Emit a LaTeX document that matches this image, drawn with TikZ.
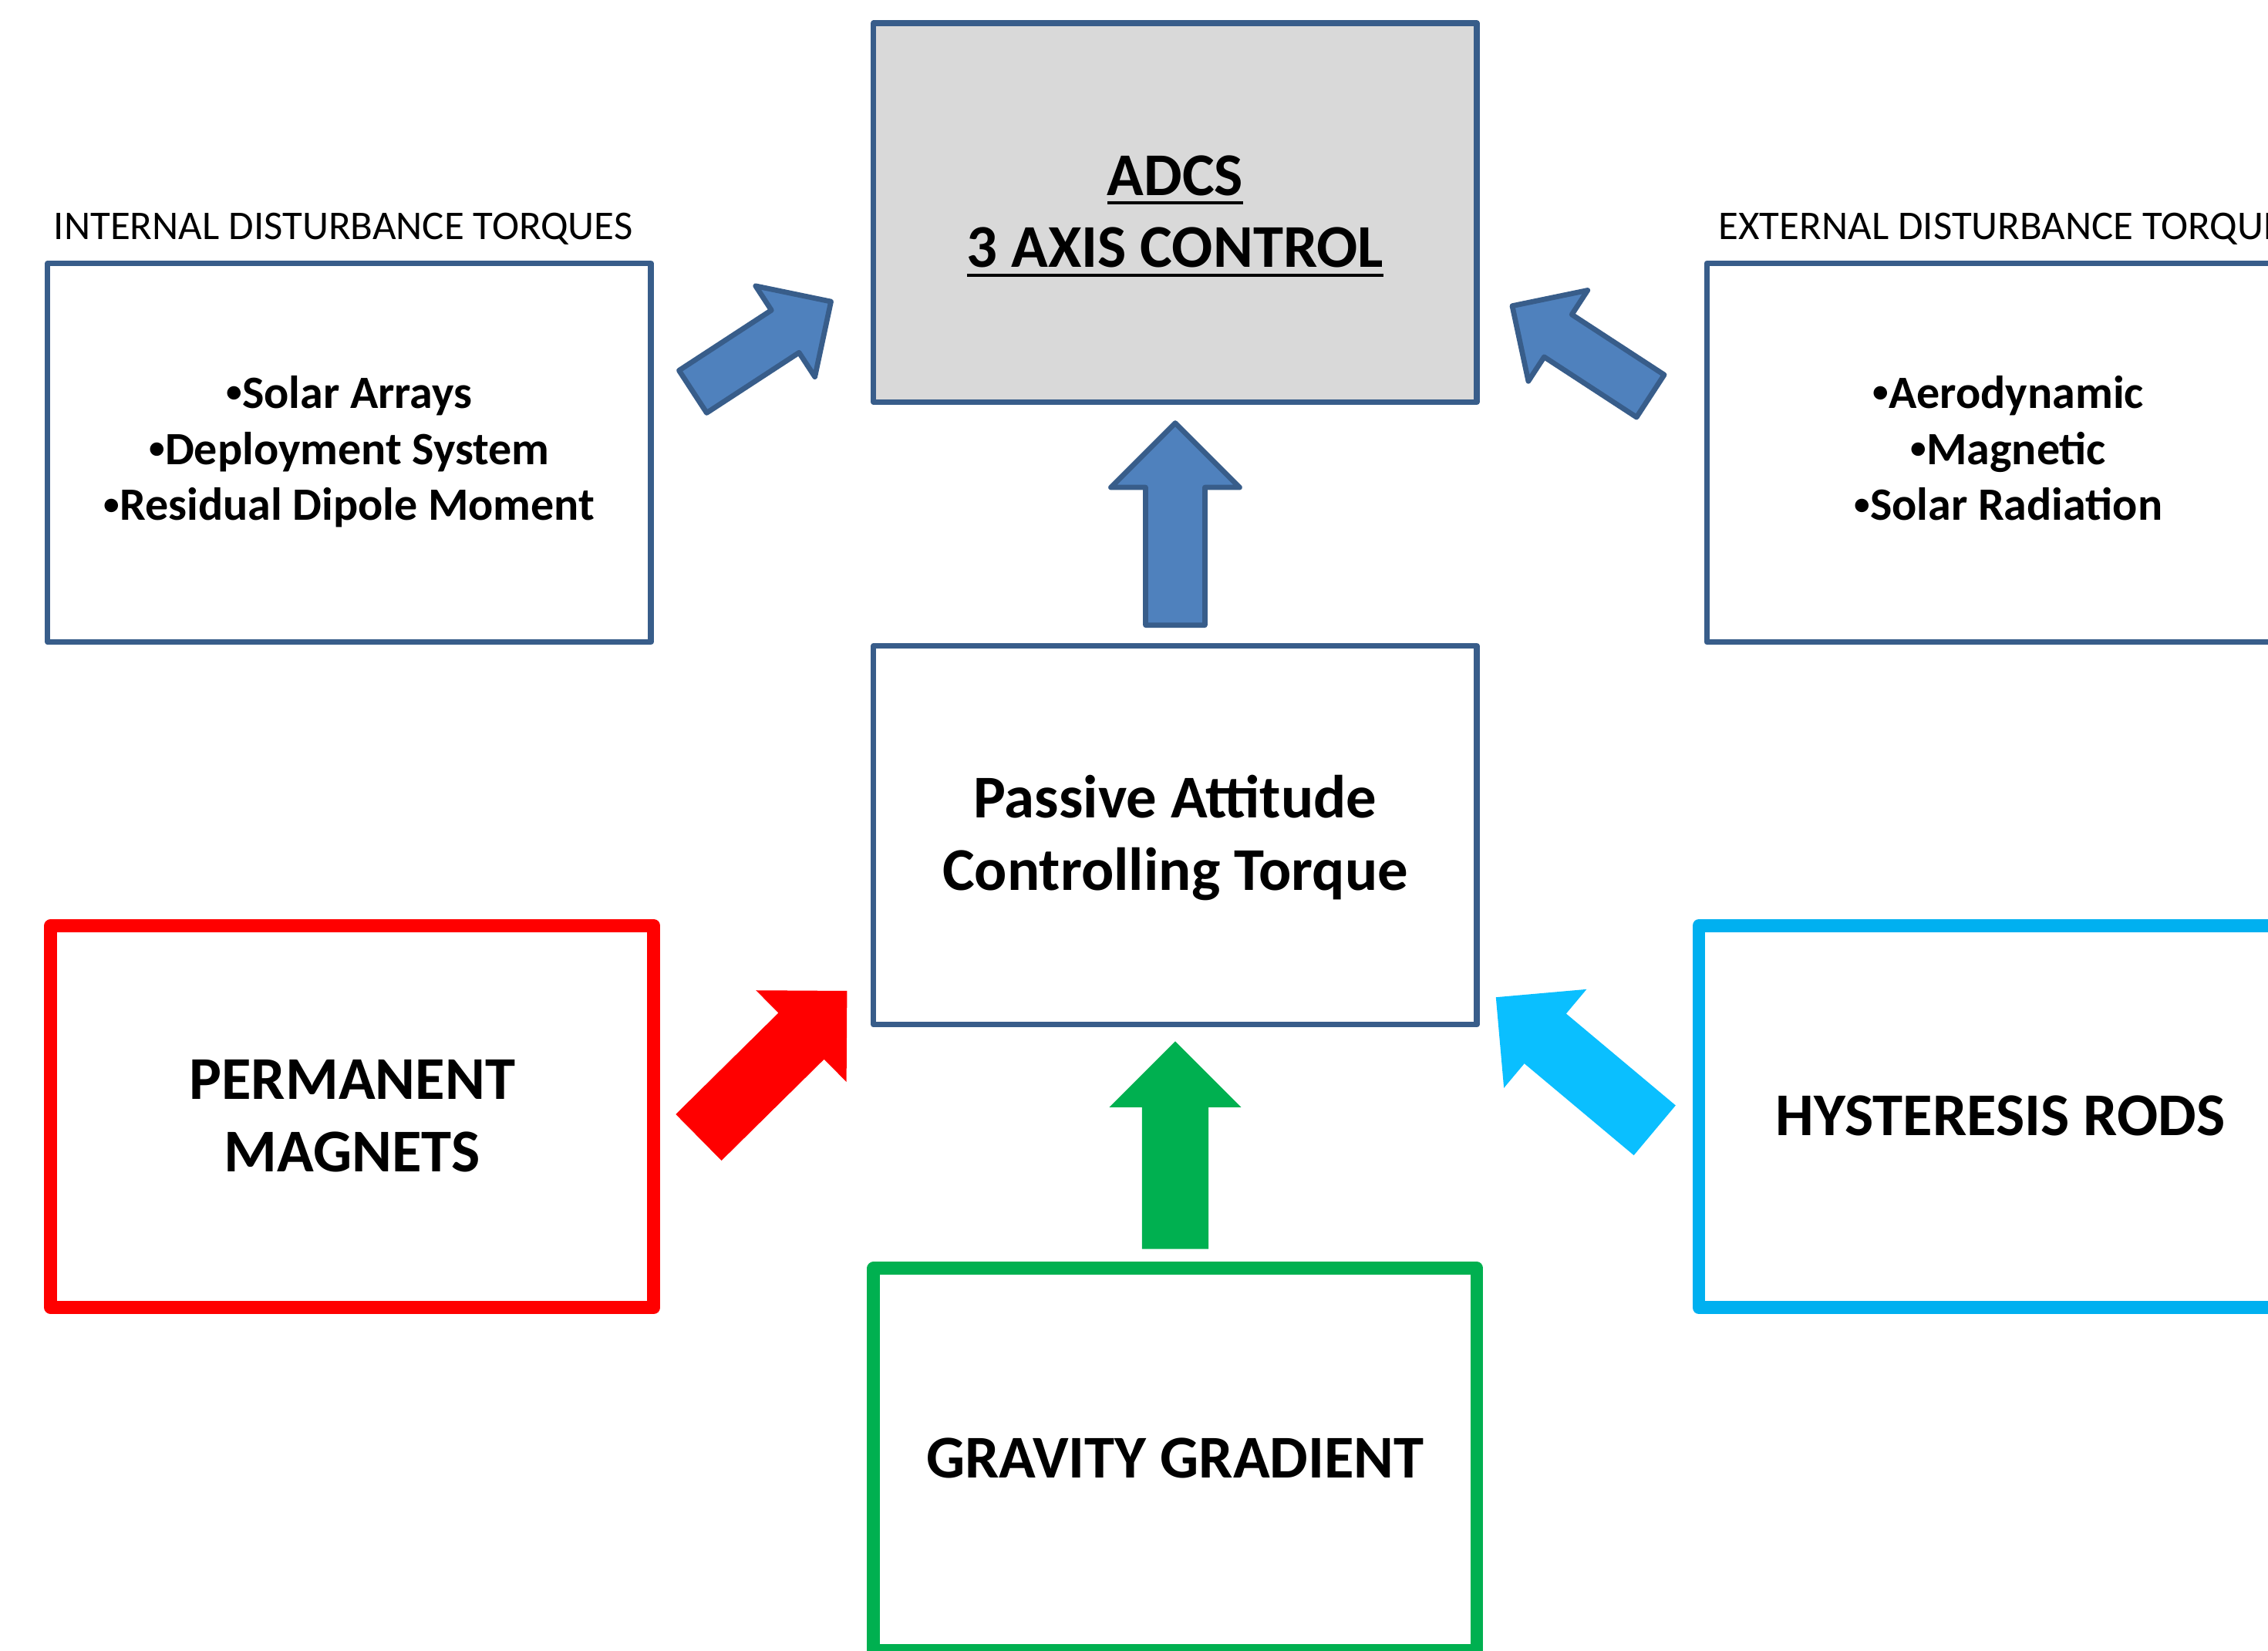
\documentclass[tikz,border=0pt]{standalone}
\usepackage{fontspec}
\setmainfont{Carlito}
\usetikzlibrary{calc}

\definecolor{boxblue}{HTML}{385D8A}
\definecolor{arrowblue}{HTML}{4F81BD}
\definecolor{adcsgray}{HTML}{D9D9D9}
\definecolor{magred}{HTML}{FF0000}
\definecolor{gravgreen}{HTML}{00B050}
\definecolor{hystcyan}{HTML}{00B0F0}
\definecolor{hystarrow}{HTML}{0ABFFF}

% underline with a fixed rule, struts for the line heights, small bullet
\newcommand{\ulined}[1]{\setbox0\hbox{#1}\rlap{\rule[-6.2pt]{\wd0}{1.8pt}}\box0}
\newcommand{\bigline}{\rule[-12pt]{0pt}{50pt}}
\newcommand{\itemline}{\rule[-11.4pt]{0pt}{38.75pt}}
\newcommand{\dotb}{\raisebox{4pt}{\fontsize{22}{22}\selectfont •}}

\begin{document}
\begin{tikzpicture}[x=1pt, y=1pt, line cap=round, line join=round]
\tikzset{
    bluebox/.style={draw=boxblue, line width=3.8pt, minimum width=417pt, minimum height=262pt, inner sep=0pt},
    colbox/.style={draw=#1, line width=9pt, minimum width=417pt, minimum height=264pt, inner sep=0pt},
    bigtext/.style={font=\bfseries\fontsize{42}{50}\selectfont, align=center},
    itemtext/.style={font=\bfseries\fontsize{32}{38.75}\selectfont, align=center},
    headtext/.style={font=\fontsize{28.2}{30}\selectfont, anchor=base west, inner sep=0pt},
    bluearrow/.style={fill=arrowblue, draw=boxblue, line width=3.6pt},
    % block arrow from tail centre to tip: #1 shaft width, #2 head width
    fat/.style n args={2}{to path={
        let \p1=(\tikztostart), \p2=(\tikztotarget),
            \n1={atan2(\y2-\y1,\x2-\x1)},
            \n2={veclen(\x2-\x1,\y2-\y1)-#2/2}
        in ($(\p1)+({\n1-90}:{#1/2})$) -- ++({\n1}:{\n2}) -- ++({\n1-90}:{(#2-#1)/2})
           -- (\p2) -- ($(\p1)+({\n1}:{\n2})+({\n1+90}:{#2/2})$)
           -- ++({\n1-90}:{(#2-#1)/2}) -- ($(\p1)+({\n1+90}:{#1/2})$) -- cycle}}
}
\useasboundingbox (0,0) rectangle (1568,1141);
\clip (0,0) rectangle (1568,1141);
\fill[white] (0,0) rectangle (1568,1141);

%% boxes
\node[bluebox, fill=adcsgray, bigtext] (adcs) at (812.5,994) {\bigline\ulined{ADCS}\\\bigline\ulined{3 AXIS CONTROL}};
\node[bluebox, bigtext] (pass) at (812.5,563.5) {\bigline Passive Attitude\\\bigline Controlling Torque};
\node[bluebox, itemtext] (intl) at (241.5,828) {\itemline\dotb Solar Arrays\\\itemline\dotb Deployment System\\\itemline\dotb Residual Dipole Moment};
\node[bluebox, itemtext] (extl) at (1388.5,828) {\itemline\dotb Aerodynamic\\\itemline\dotb Magnetic\\\itemline\dotb Solar Radiation};
\node[colbox=magred, bigtext] (perm) at (243.5,369) {\bigline PERMANENT\\\bigline MAGNETS};
\node[colbox=hystcyan, bigtext] (hyst) at (1383,369) {\bigline HYSTERESIS RODS};
\node[colbox=gravgreen, bigtext] (grav) at (812.5,132) {\bigline GRAVITY GRADIENT};

\node[headtext] (intlLbl) at (37,975.6) {INTERNAL DISTURBANCE TORQUES};
\node[headtext] (extlLbl) at (1188,975.6) {EXTERNAL DISTURBANCE TORQUES};

%% arrows
\coordinate (a1s) at (479,870.2);   \coordinate (a1e) at (574.5,932.5);
\coordinate (a2s) at (1141,867.2);  \coordinate (a2e) at (1045.5,929.5);
\coordinate (a3s) at (812.5,708.8); \coordinate (a3e) at (812.5,848.5);
\coordinate (a4s) at (483,354.6);   \coordinate (a4e) at (585.6,455.9);
\coordinate (a5s) at (1144,359.5);  \coordinate (a5e) at (1034.2,451.5);
\coordinate (a6s) at (812.5,277.5); \coordinate (a6e) at (812.5,421);

\draw[bluearrow, fat={35}{75}] (a1s) to (a1e);
\draw[bluearrow, fat={35}{75}] (a2s) to (a2e);
\draw[bluearrow, fat={41}{89}] (a3s) to (a3e);
\fill[magred, fat={45}{89}] (a4s) to (a4e);
\fill[hystarrow, fat={45}{89}] (a5s) to (a5e);
\fill[gravgreen, fat={46}{91}] (a6s) to (a6e);

\end{tikzpicture}
\end{document}
